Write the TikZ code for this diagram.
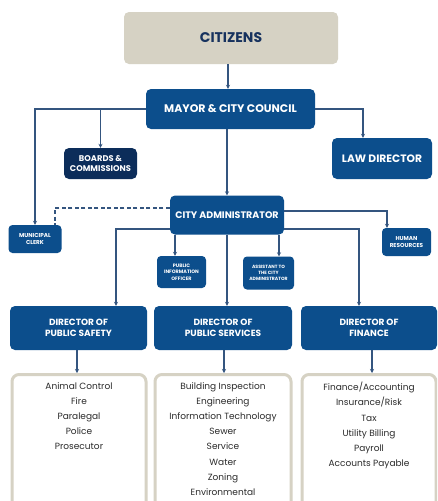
\documentclass[tikz,border=0pt]{standalone}
\usepackage{fontspec}
\setmainfont{Poppins}
\usetikzlibrary{arrows.meta}
\definecolor{beige}{HTML}{D6D2C4}
\definecolor{navy}{HTML}{17325E}
\definecolor{cityblue}{HTML}{0C4E8C}
\definecolor{deepblue}{HTML}{0C2D5A}
\definecolor{wire}{HTML}{34557F}
\definecolor{listtext}{HTML}{2B2B2B}
\tikzset{
  box/.style={rounded corners=5pt, inner sep=0pt, align=center, font=\bfseries},
  bluebox/.style={box, fill=cityblue, text=white},
  listbox/.style={draw=beige, line width=3pt, fill=white, rounded corners=7pt},
  wirestyle/.style={draw=wire, line width=1.2pt},
  arr/.style={wirestyle, -{Stealth[length=4pt,width=4pt]}},
  listitems/.style={align=center, text=listtext, font=\fontsize{9}{15.2}\selectfont, anchor=north, inner sep=0pt}
}
\begin{document}
\begin{tikzpicture}[x=1pt,y=-1pt]
\clip (0,0) rectangle (437,501);
\fill[white] (0,0) rectangle (437,501);

% top of the chart
\node[box, fill=beige, text=navy, minimum width=214pt, minimum height=52pt,
      font=\bfseries\fontsize{14}{16}\selectfont] (citizens) at (231,38) {CITIZENS};
\node[bluebox, minimum width=169pt, minimum height=40pt,
      font=\bfseries\fontsize{11}{13}\selectfont] (mayor) at (230.5,109) {MAYOR \& CITY COUNCIL};
\node[box, fill=deepblue, text=white, minimum width=73pt, minimum height=31pt,
      font=\bfseries\fontsize{8.3}{10}\selectfont] (boards) at (100.5,163.5) {BOARDS \&\\COMMISSIONS};
\node[bluebox, minimum width=100pt, minimum height=41pt,
      font=\bfseries\fontsize{10.7}{12}\selectfont] (law) at (382,158.5) {LAW DIRECTOR};

% administration level
\node[bluebox, minimum width=114pt, minimum height=39pt,
      font=\bfseries\fontsize{9.5}{11}\selectfont] (admin) at (227,215) {CITY ADMINISTRATOR};
\node[bluebox, minimum width=53pt, minimum height=28pt, rounded corners=4pt,
      font=\bfseries\fontsize{5.7}{7.5}\selectfont] (clerk) at (35,239) {MUNICIPAL\\CLERK};
\node[bluebox, minimum width=49pt, minimum height=28pt, rounded corners=4pt,
      font=\bfseries\fontsize{5.7}{7.5}\selectfont] (hr) at (406.5,242) {HUMAN\\RESOURCES};
\node[bluebox, minimum width=49pt, minimum height=32pt, rounded corners=4pt,
      font=\bfseries\fontsize{4.9}{6.3}\selectfont] (pio) at (181.5,272) {PUBLIC\\INFORMATION\\OFFICER};
\node[bluebox, minimum width=51pt, minimum height=33pt, rounded corners=4pt,
      font=\bfseries\fontsize{4.6}{6.3}\selectfont] (asst) at (268.5,273) {ASSISTANT TO\\THE CITY\\ADMINISTRATOR};

% directors
\node[bluebox, minimum width=137pt, minimum height=44pt,
      font=\bfseries\fontsize{9}{11.5}\selectfont] (safety) at (78.5,328) {DIRECTOR OF\\PUBLIC SAFETY};
\node[bluebox, minimum width=138pt, minimum height=44pt,
      font=\bfseries\fontsize{9}{11.5}\selectfont] (services) at (223,328) {DIRECTOR OF\\PUBLIC SERVICES};
\node[bluebox, minimum width=136pt, minimum height=44pt,
      font=\bfseries\fontsize{9}{11.5}\selectfont] (finance) at (369,328) {DIRECTOR OF\\FINANCE};

% department lists
\node[listbox, minimum width=134pt, minimum height=140pt, anchor=north] (list1) at (79,373) {};
\node[listbox, minimum width=136pt, minimum height=140pt, anchor=north] (list2) at (223,373) {};
\node[listbox, minimum width=134pt, minimum height=140pt, anchor=north] (list3) at (369,373) {};
\node[listitems] (items1) at (79,382) {Animal Control\\Fire\\Paralegal\\Police\\Prosecutor};
\node[listitems] (items2) at (223,382) {Building Inspection\\Engineering\\Information Technology\\Sewer\\Service\\Water\\Zoning\\Environmental};
\node[listitems] (items3) at (369,382) {Finance/Accounting\\Insurance/Risk\\Tax\\Utility Billing\\Payroll\\Accounts Payable};

% connectors
\draw[arr] ([xshift=-3pt]citizens.south) -- ([xshift=-3pt]citizens.south |- mayor.north);
\draw[arr] (mayor.west) -| (clerk.north);
\draw[arr] (boards.north |- mayor.west) -- (boards.north);
\draw[arr] (mayor.east) -| ([xshift=-19pt]law.north);
\draw[arr] (admin.north |- mayor.south) -- (admin.north);
\draw[wirestyle, dashed, dash pattern=on 4pt off 2.5pt] ([yshift=7pt]admin.west) -| ([xshift=20pt]clerk.north);
\draw[arr] ([yshift=4pt]admin.east) -| ([xshift=-19.5pt]hr.north);
\draw[arr] ([xshift=-6.5pt]pio.north |- admin.south) -- ([xshift=-6.5pt]pio.north);
\draw[arr] ([xshift=10.5pt]asst.north |- admin.south) -- ([xshift=10.5pt]asst.north);
\draw[arr] ([yshift=-14pt]admin.west) -| ([xshift=37.5pt]safety.north);
\draw[arr] (admin.south) -- (admin.south |- services.north);
\draw[arr] ([yshift=-14pt]admin.east) -| ([xshift=-10pt]finance.north);
\draw[arr] ([xshift=-1.5pt]safety.south) -- ([xshift=-1.5pt]safety.south |- list1.north);
\draw[arr] ([xshift=1pt]services.south) -- ([xshift=1pt]services.south |- list2.north);
\draw[arr] ([xshift=3pt]finance.south) -- ([xshift=3pt]finance.south |- list3.north);
\end{tikzpicture}
\end{document}
